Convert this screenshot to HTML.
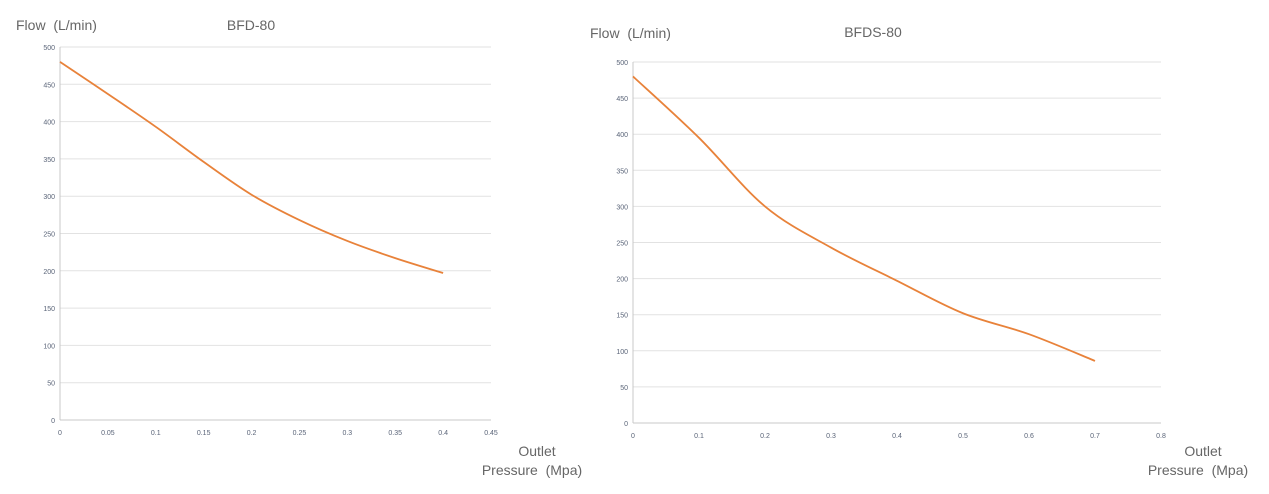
<!DOCTYPE html>
<html><head><meta charset="utf-8"><style>
body{margin:0;background:#fff;width:1269px;height:489px;overflow:hidden;font-family:"Liberation Sans",sans-serif}
svg text{font-family:"Liberation Sans",sans-serif;white-space:pre}
</style></head><body>
<svg id="svg" width="1269" height="489"></svg>
<script>
const leftX=[0,0.05,0.1,0.15,0.2,0.25,0.3,0.35,0.4];
const leftY=[480,437,393,346,302,268,240,217,197];
const leftXTicks=["0","0.05","0.1","0.15","0.2","0.25","0.3","0.35","0.4","0.45"];
const rightX=[0,0.1,0.2,0.3,0.4,0.5,0.6,0.7];
const rightY=[480,395,300,243,197,152,123,86];
const rightXTicks=["0","0.1","0.2","0.3","0.4","0.5","0.6","0.7","0.8"];
const yTicks=[0,50,100,150,200,250,300,350,400,450,500];
const NS="http://www.w3.org/2000/svg";
const svg=document.getElementById('svg');
function mk(tag,attrs,parent){const e=document.createElementNS(NS,tag);for(const k in attrs)e.setAttribute(k,attrs[k]);(parent||svg).appendChild(e);return e;}
function chart(cfg){
  const g=mk('g',{});
  
  
  const xs=v=>cfg.x0+(v/cfg.xmax)*(cfg.x1-cfg.x0);
  const ys=v=>cfg.y0-(v/500)*(cfg.y0-cfg.y1);
  yTicks.forEach(t=>{
    const l=mk('line',{x1:cfg.x0,x2:cfg.x1,y1:ys(t),y2:ys(t),stroke:t===0?'#c8c8c8':'#e2e2e2','stroke-width':1},g);
    
    
    const tx=mk('text',{x:cfg.x0-5,y:ys(t)+3,'font-size':7,fill:'#5a6478','text-anchor':'end'},g);
    tx.textContent=t;
    
    
  });
  const ax=mk('line',{x1:cfg.x0,x2:cfg.x0,y1:cfg.y1,y2:cfg.y0,stroke:'#c8c8c8'},g);
  
  
  cfg.xt.forEach(t=>{
    const tx=mk('text',{x:xs(parseFloat(t)),y:cfg.y0+15,'font-size':7,fill:'#5a6478','text-anchor':'middle'},g);
    tx.textContent=t;
    
    
  });
  const P=cfg.xv.map((v,i)=>[xs(v),ys(cfg.yv[i])]);
  let d='M'+P[0][0]+','+P[0][1];
  for(let i=0;i<P.length-1;i++){
    const p0=P[i-1]||P[i],p1=P[i],p2=P[i+1],p3=P[i+2]||p2;
    d+=' C'+(p1[0]+(p2[0]-p0[0])/6)+','+(p1[1]+(p2[1]-p0[1])/6)+' '+(p2[0]-(p3[0]-p1[0])/6)+','+(p2[1]-(p3[1]-p1[1])/6)+' '+p2[0]+','+p2[1];
  }
  const path=mk('path',{d:d,fill:'none',stroke:'#e8823a','stroke-width':1.8},g);
  
  
  const texts=[[cfg.ylab,'y-axis-title',cfg.ylx,cfg.yly,'start'],[cfg.title,'chart-title',cfg.tx,cfg.ty,'middle'],['Outlet','x-axis-title',cfg.olx,cfg.oly,'middle'],['Pressure  (Mpa)','x-axis-title',cfg.plx,cfg.oly+19,'middle']];
  texts.forEach(a=>{
    const t=mk('text',{x:a[2],y:a[3],'font-size':14,fill:'#666','text-anchor':a[4]},g);
    t.textContent=a[0];
    
    
  });
}
chart({name:'bfd-80-chart',x0:60,x1:491,y0:420,y1:47,xmax:0.45,xv:leftX,yv:leftY,xt:leftXTicks,ylab:'Flow  (L/min)',ylx:16,yly:30,title:'BFD-80',tx:251,ty:30,olx:537,oly:456,plx:532});
chart({name:'bfds-80-chart',x0:633,x1:1161,y0:423,y1:62,xmax:0.8,xv:rightX,yv:rightY,xt:rightXTicks,ylab:'Flow  (L/min)',ylx:590,yly:38,title:'BFDS-80',tx:873,ty:37,olx:1203,oly:456,plx:1198});
</script>
</body></html>
